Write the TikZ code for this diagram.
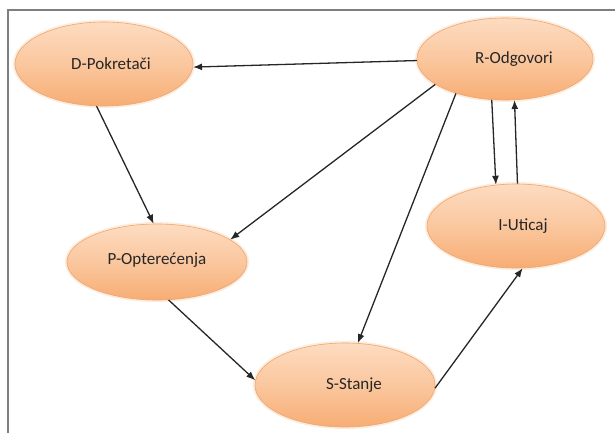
\documentclass[tikz,border=0pt]{standalone}
\usepackage{fontspec}
\setmainfont{Carlito}
\usetikzlibrary{shapes.geometric,arrows.meta}

\definecolor{peachtop}{HTML}{FDDCC1}
\definecolor{peachbot}{HTML}{F7AD74}
\definecolor{peachline}{HTML}{EFA56E}
\definecolor{peachglow}{HTML}{FBD2B0}
\definecolor{framegray}{HTML}{7F7F7F}
\definecolor{labeltext}{HTML}{262626}

\tikzset{
  state/.style={ellipse, inner sep=0pt, top color=peachtop, bottom color=peachbot,
    middle color=peachtop!55!peachbot, draw=peachline, line width=0.6pt,
    text=labeltext, font=\fontsize{17}{20}\selectfont,
    preaction={draw=peachglow, line width=4pt, opacity=0.45}},
  link/.style={draw=black!85, line width=1.3pt, -{Latex[length=9pt,width=7pt]}},
}

\begin{document}
\begin{tikzpicture}[x=1pt, y=-1pt]
  \useasboundingbox (0,0) rectangle (615,433);
  % frame: only its top and left edges fall inside the page
  \draw[framegray, line width=1.5pt] (615,10) -- (8,10) -- (8,433);

  \node[state, minimum width=178pt, minimum height=84pt] (D) at (104,64) {\hspace{14pt}D-Pokretači};
  \node[state, minimum width=176pt, minimum height=82pt] (R) at (505,59) {\hspace{18pt}R-Odgovori};
  \node[state, minimum width=178pt, minimum height=84pt] (I) at (516,226) {\hspace{14pt}I-Uticaj};
  \node[state, minimum width=180pt, minimum height=76pt] (P) at (157,262) {\raisebox{6pt}{P-Opterećenja}};
  \node[state, minimum width=180pt, minimum height=84pt] (S) at (345,385) {\hspace{18pt}S-Stanje};

  \draw[link] (R.181) -- (D.358);
  \draw[link] (D.260) -- (P.95);
  \draw[link] (R.200) -- (P.17);
  \draw[link] (R.215) -- (S.73);
  \draw[link] (R.252) -- (I.116);
  \draw[link] (I.88) -- (R.283);
  \draw[link] (P.287) -- (S.177);
  \draw[link] (S.358) -- (I.279);
\end{tikzpicture}
\end{document}
